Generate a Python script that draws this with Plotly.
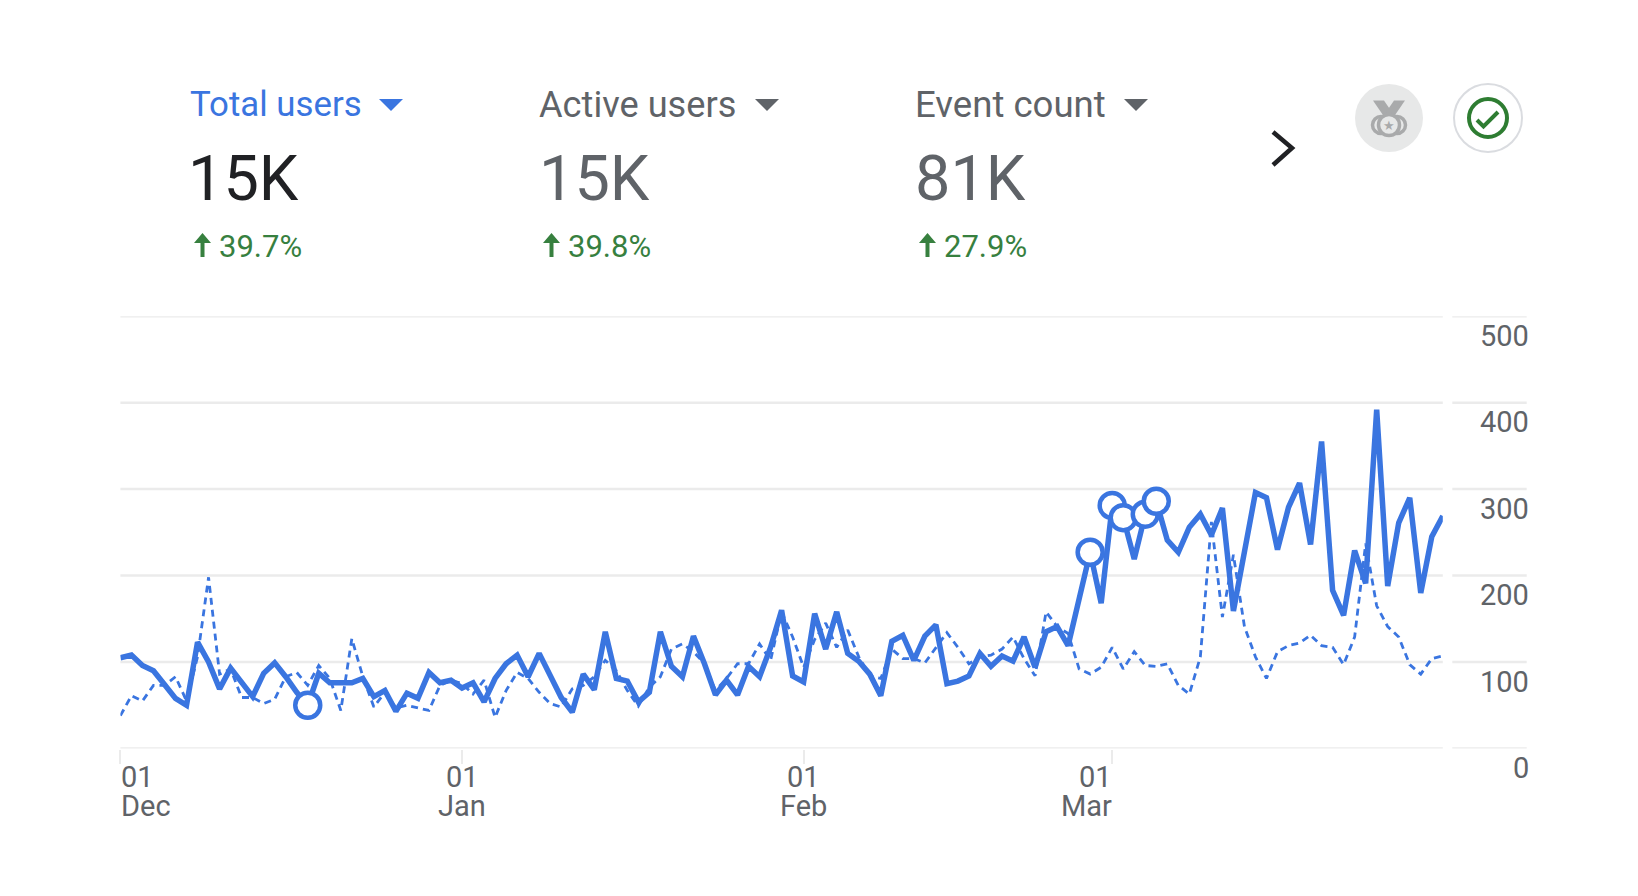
import pandas as pd
import plotly.graph_objects as go

W = 1638
H = 896

dates = pd.date_range("2022-12-01", "2023-03-31").strftime("%Y-%m-%d").tolist()

total_users = [105, 108, 96, 90, 74, 58, 50, 123, 100, 69,
               93, 77, 60, 87, 99, 83, 65, 50, 87, 76,
               76, 76, 81, 60, 67, 43, 64, 58, 88, 76,
               79, 70, 76, 54, 81, 98, 108, 83, 110, 84,
               59, 42, 86, 68, 135, 81, 78, 54, 65, 135,
               95, 83, 130, 98, 62, 79, 62, 95, 83, 117,
               160, 84, 77, 156, 115, 158, 110, 101, 86, 61,
               124, 131, 102, 130, 143, 75, 78, 84, 110, 95,
               107, 101, 129, 94, 135, 141, 119, 173, 227, 168,
               281, 267, 219, 271, 286, 241, 227, 256, 271, 247,
               278, 159, 227, 296, 290, 230, 279, 307, 236, 355,
               183, 154, 229, 191, 392, 188, 261, 290, 180, 245, 269]

prior_users = [38, 61, 55, 73, 73, 83, 55, 106, 198, 86,
               92, 59, 59, 52, 57, 83, 88, 73, 96, 81,
               44, 127, 83, 48, 65, 47, 50, 47, 44, 73,
               79, 75, 63, 79, 36, 67, 88, 81, 65, 52,
               48, 69, 73, 83, 102, 90, 67, 49, 71, 83,
               115, 121, 112, 98, 67, 81, 98, 98, 121, 102,
               158, 129, 94, 126, 145, 117, 137, 106, 84, 81,
               115, 104, 104, 99, 117, 134, 117, 98, 106, 108,
               115, 129, 104, 84, 158, 141, 133, 92, 86, 94,
               117, 92, 112, 96, 95, 98, 73, 63, 106, 262,
               152, 224, 141, 106, 81, 112, 119, 122, 131, 119,
               117, 97, 129, 237, 165, 141, 129, 97, 86, 104, 107]

# days flagged with a ring on the chart
anomaly_days = [17, 88, 90, 91, 93, 94]

y_ticks = [0, 100, 200, 300, 400, 500]
x_ticks = ["2022-12-01", "2023-01-01", "2023-02-01", "2023-03-01"]
x_days = ["01", "01", "01", "01"]
x_months = ["Dec", "Jan", "Feb", "Mar"]
x_anchors = ["left", "center", "center", "right"]

card_names = ["Total users", "Active users", "Event count"]
card_values = ["15K", "15K", "81K"]
card_changes = ["39.7%", "39.8%", "27.9%"]

BLUE = "#3a75e0"
GREY = "#5f6368"
DARK = "#202124"
GREEN = "#37803f"
GRID = "#ebebeb"
FONT = "Roboto"

# plot area in page pixels
LEFT, RIGHT, TOP, BOTTOM = 120.4, 1442.8, 316.2, 748.5


def px(x):
    return x / W


def py(y):
    return 1 - y / H


def text(x, y, s, size, color, anchor="left"):
    return dict(x=px(x), y=py(y), xref="paper", yref="paper", text=s, showarrow=False,
                xanchor=anchor, yanchor="middle", align=anchor,
                font=dict(family=FONT, size=size, color=color))


def path(points, close=False):
    d = "M " + " L ".join(f"{px(a):.5f},{py(b):.5f}" for a, b in points)
    return d + (" Z" if close else "")


def circle(cx, cy, r, fill="rgba(0,0,0,0)", line=None, width=0):
    return dict(type="circle", xref="paper", yref="paper",
                x0=px(cx - r), x1=px(cx + r), y0=py(cy - r), y1=py(cy + r),
                fillcolor=fill, line=dict(color=line, width=width))


def stroke(points, color, width):
    return dict(type="path", xref="paper", yref="paper", path=path(points),
                fillcolor="rgba(0,0,0,0)", line=dict(color=color, width=width))


def solid(points, color):
    return dict(type="path", xref="paper", yref="paper", path=path(points, True),
                fillcolor=color, line=dict(width=0))


fig = go.Figure()

fig.add_trace(go.Scatter(x=dates, y=prior_users, mode="lines", cliponaxis=False,
                         line=dict(color=BLUE, width=2.8, dash="7px,5px"), hoverinfo="skip"))
fig.add_trace(go.Scatter(x=dates, y=total_users, mode="lines", cliponaxis=False,
                         line=dict(color=BLUE, width=5.5), hoverinfo="skip"))
fig.add_trace(go.Scatter(x=[dates[i] for i in anomaly_days],
                         y=[total_users[i] for i in anomaly_days],
                         mode="markers", cliponaxis=False,
                         marker=dict(size=25, color="white", line=dict(color=BLUE, width=4.5)),
                         hoverinfo="skip"))

annotations = []
shapes = []

# gridlines, broken in two so the value labels get their own stub
for v in y_ticks:
    for x0, x1 in [(LEFT, RIGHT), (1452.3, 1526.7)]:
        shapes.append(dict(type="line", xref="paper", yref="y", x0=px(x0), x1=px(x1),
                           y0=v, y1=v, line=dict(color=GRID, width=2.5), layer="below"))
    annotations.append(dict(x=px(1531), y=v, xref="paper", yref="y", text=str(v), showarrow=False,
                            xanchor="right", yanchor="middle", yshift=-19.5,
                            font=dict(family=FONT, size=29, color=GREY)))

for d, day, month, anchor in zip(x_ticks, x_days, x_months, x_anchors):
    for label, shift in [(day, -28.5), (month, -57.5)]:
        annotations.append(dict(x=d, y=0, xref="x", yref="y", text=label, showarrow=False,
                                xanchor=anchor, yanchor="middle", yshift=shift,
                                xshift=-1 if anchor == "left" else 2 if anchor == "right" else 0,
                                font=dict(family=FONT, size=29, color=GREY)))

# metric cards
card_x = [188, 537, 913]
card_tri = [379, 755, 1124]
name_sizes = [34.8, 36.2, 36.6]
for i in range(3):
    x = card_x[i]
    annotations.append(text(x, 104, card_names[i], name_sizes[i], BLUE if i == 0 else GREY))
    annotations.append(text(x - 2 if i == 0 else x, 178, card_values[i], 63, DARK if i == 0 else GREY))
    annotations.append(text(x + 29, 247, card_changes[i], 31, GREEN))
    t = card_tri[i]
    shapes.append(solid([(t, 99), (t + 24, 99), (t + 12, 111)], BLUE if i == 0 else GREY))
    # up arrow
    a = x + 6
    shapes.append(solid([(a + 8.5, 233), (a + 17, 243), (a + 10.5, 243), (a + 10.5, 257),
                         (a + 6.5, 257), (a + 6.5, 243), (a, 243)], GREEN))

# chevron
shapes.append(stroke([(1273, 132), (1292, 148), (1273, 165)], DARK, 4.5))

# medal badge
MEDAL = "#a9aaab"
shapes.append(circle(1389, 118, 34, fill="#e7e8e8"))
shapes.append(solid([(1373, 100.5), (1384, 100.5), (1396, 118), (1385, 118)], MEDAL))
shapes.append(solid([(1405, 100.5), (1394, 100.5), (1382, 118), (1393, 118)], MEDAL))
shapes.append(circle(1381, 125, 8.5, fill="#e7e8e8", line=MEDAL, width=3.5))
shapes.append(circle(1397, 125, 8.5, fill="#e7e8e8", line=MEDAL, width=3.5))
shapes.append(circle(1389, 125, 10.5, fill="#e7e8e8", line=MEDAL, width=3.5))
annotations.append(dict(x=px(1389), y=py(125), xref="paper", yref="paper", text="★", showarrow=False,
                        xanchor="center", yanchor="middle",
                        font=dict(family="DejaVu Sans", size=13, color=MEDAL)))

# check badge
shapes.append(circle(1488, 118, 34, fill="white", line="#dadce0", width=2))
shapes.append(circle(1488, 118, 19, line="#2e7d32", width=4))
shapes.append(stroke([(1477, 120), (1483.5, 126.5), (1498, 112)], "#2e7d32", 4))

fig.update_layout(
    width=W,
    height=H,
    margin=dict(l=0, r=0, t=0, b=0),
    paper_bgcolor="white",
    plot_bgcolor="white",
    showlegend=False,
    annotations=annotations,
    shapes=shapes,
)
fig.update_xaxes(domain=[px(LEFT), px(RIGHT)], range=[dates[0], dates[-1]], type="date",
                 showgrid=False, zeroline=False, showline=False,
                 tickvals=x_ticks, showticklabels=False,
                 ticks="outside", ticklen=14, tickwidth=2, tickcolor=GRID)
fig.update_yaxes(domain=[py(BOTTOM), py(TOP)], range=[0, 500],
                 tickvals=y_ticks, showticklabels=False, ticks="",
                 showgrid=False, zeroline=False, showline=False)

fig.write_html("out.html", config=dict(displayModeBar=False),
               post_script="document.body.style.margin='0';")
